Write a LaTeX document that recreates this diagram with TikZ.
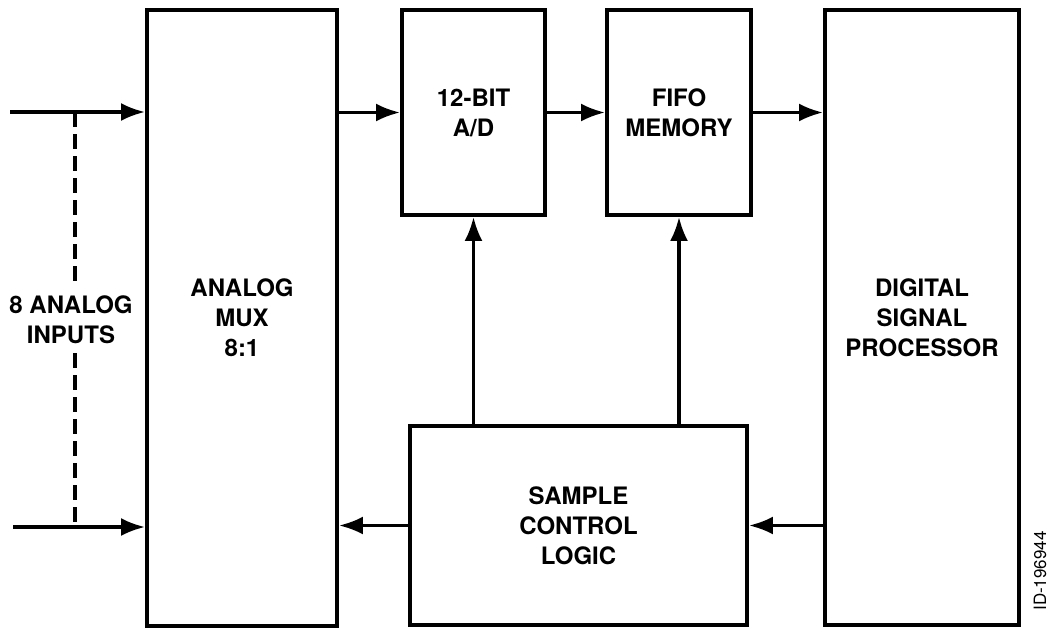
\documentclass[tikz,border=0pt]{standalone}
\usepackage{fontspec}
\setmainfont{TeX Gyre Heros}
\usetikzlibrary{arrows.meta,positioning}

\begin{document}
\begin{tikzpicture}[x=1pt,y=-1pt,>={Latex[length=24pt,width=18pt]},every node/.style={font=\bfseries\fontsize{24}{30}\selectfont,align=center},
  blk/.style={draw,line width=3.8pt,inner sep=0pt},
  conn/.style={line width=3.5pt},
  tap/.style={line width=3.5pt,dash pattern=on 15pt off 7pt}]
\useasboundingbox (0,0) rectangle (1051,629);
\node[blk,minimum width=190pt,minimum height=616pt] (mux) at (242,318) {ANALOG\\MUX\\8:1};
\node[blk,minimum width=143pt,minimum height=205pt] (adc) at (473.5,112.5) {12-BIT\\A/D};
\node[blk,minimum width=144pt,minimum height=205pt] (fifo) at (679,112.5) {FIFO\\MEMORY};
\node[blk,minimum width=194pt,minimum height=615pt] (dsp) at (922,317.5) {DIGITAL\\SIGNAL\\PROCESSOR};
\node[blk,minimum width=337pt,minimum height=199pt] (scl) at (578.5,525.5) {SAMPLE\\CONTROL\\LOGIC};
\node[outer sep=6pt] (inputs) at (71,320) {8 ANALOG\\INPUTS};
\node[rotate=90,font=\fontsize{17}{20}\selectfont] (id) at (1040,571) {ID-196944};
\coordinate (in1) at (10,112);
\coordinate (in8) at (13,527);
\coordinate (tap1) at (75,112);
\coordinate (tap8) at (75,527);
\draw[conn,->] (in1)--(in1 -| mux.west);
\draw[conn,->] (in8)--(in8 -| mux.west);
\draw[tap] (tap1)--(inputs.north -| tap1);
\draw[tap] (inputs.south -| tap8)--(tap8);
\draw[conn,->] (mux.east |- adc.west)--(adc.west);
\draw[conn,->] (adc.east)--(fifo.west);
\draw[conn,->] (fifo.east)--(fifo.east -| dsp.west);
\draw[conn,->] (scl.north -| adc.south)--(adc.south);
\draw[conn,->] (scl.north -| fifo.south)--(fifo.south);
\draw[conn,->] (scl.west)--(scl.west -| mux.east);
\draw[conn,->] (scl.east -| dsp.west)--(scl.east);
\end{tikzpicture}
\end{document}
